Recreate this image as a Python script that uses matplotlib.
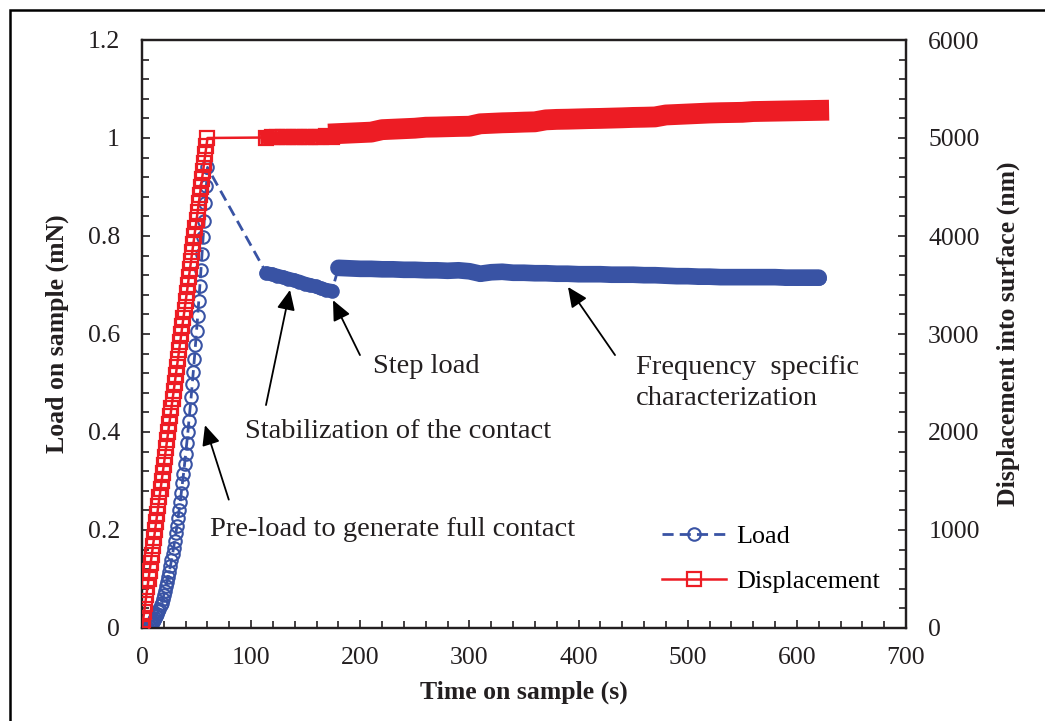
import matplotlib
matplotlib.use('Agg')
import matplotlib.pyplot as plt
from matplotlib.patches import Rectangle
from matplotlib.ticker import MultipleLocator, FuncFormatter
from matplotlib.lines import Line2D

plt.rcParams['font.family'] = ['Liberation Serif', 'DejaVu Serif']

# ---------------- data ----------------
ramp_time = list(range(0, 61))
ramp_load = [0.000, 0.000, 0.000, 0.001, 0.001, 0.002, 0.004, 0.005, 0.008, 0.010,
             0.013, 0.016, 0.020, 0.024, 0.029, 0.034, 0.039, 0.046, 0.052, 0.060,
             0.067, 0.076, 0.085, 0.094, 0.104, 0.115, 0.126, 0.138, 0.151, 0.164,
             0.178, 0.193, 0.208, 0.224, 0.241, 0.258, 0.276, 0.295, 0.314, 0.334,
             0.355, 0.377, 0.399, 0.423, 0.447, 0.471, 0.497, 0.523, 0.550, 0.578,
             0.607, 0.636, 0.667, 0.698, 0.730, 0.763, 0.797, 0.831, 0.867, 0.903,
             0.940]
ramp_disp = [0, 80, 165, 250, 335, 415, 500, 585, 665, 750,
             835, 915, 1000, 1085, 1165, 1250, 1335, 1415, 1500, 1585,
             1665, 1750, 1835, 1915, 2000, 2085, 2165, 2250, 2335, 2415,
             2500, 2585, 2665, 2750, 2835, 2915, 3000, 3085, 3165, 3250,
             3335, 3415, 3500, 3585, 3665, 3750, 3835, 3915, 4000, 4085,
             4165, 4250, 4335, 4415, 4500, 4585, 4665, 4750, 4835, 4915,
             5000]

step_time = [114, 119, 124, 129, 134, 139, 144, 149, 154, 159, 164, 169, 174]
step_load = [0.724, 0.722, 0.719, 0.716, 0.713, 0.710, 0.707, 0.703, 0.700,
             0.697, 0.693, 0.690, 0.688]
step_disp = [5005, 5008, 5006, 5010, 5008, 5012, 5010, 5014, 5011, 5015,
             5013, 5016, 5012]

freq_time = [180, 190, 200, 210, 220, 230, 240, 250, 260, 270,
             280, 290, 300, 310, 320, 330, 340, 350, 360, 370,
             380, 390, 400, 410, 420, 430, 440, 450, 460, 470,
             480, 490, 500, 510, 520, 530, 540, 550, 560, 570,
             580, 590, 600, 610, 620]
freq_load = [0.735, 0.734, 0.733, 0.733, 0.732, 0.732, 0.731, 0.731, 0.730, 0.730,
             0.729, 0.730, 0.728, 0.723, 0.726, 0.727, 0.725, 0.725, 0.724, 0.724,
             0.723, 0.723, 0.722, 0.722, 0.722, 0.721, 0.721, 0.721, 0.720, 0.720,
             0.719, 0.718, 0.718, 0.717, 0.717, 0.716, 0.716, 0.716, 0.716, 0.716,
             0.716, 0.715, 0.715, 0.715, 0.715]
freq_disp = [5045, 5050, 5055, 5060, 5085, 5090, 5095, 5100, 5110, 5112,
             5115, 5118, 5120, 5145, 5150, 5155, 5158, 5162, 5165, 5185,
             5190, 5192, 5195, 5198, 5200, 5203, 5206, 5210, 5212, 5215,
             5235, 5240, 5245, 5250, 5255, 5258, 5260, 5262, 5270, 5272,
             5274, 5276, 5278, 5280, 5282]

all_time = ramp_time + step_time + freq_time
all_load = ramp_load + step_load + freq_load
all_disp = ramp_disp + step_disp + freq_disp

# ---------------- style ----------------
BLUE = '#3953A4'
RED = '#ED1C24'
INK = '#231F20'
W, H = 1045, 721

fig = plt.figure(figsize=(W / 100, H / 100), dpi=100)
ax = fig.add_axes([142 / W, (H - 628) / H, 764 / W, 588 / H])
ax2 = ax.twinx()

dash = (0, (4, 2.2))
ax.plot(all_time, all_load, color=BLUE, ls=dash, lw=2.0, marker='o', ms=9,
        mfc='none', mec=BLUE, mew=1.5, zorder=3)
ax.plot(step_time, step_load, color=BLUE, lw=10, solid_capstyle='round', zorder=2)
ax.plot(freq_time, freq_load, color=BLUE, lw=12, solid_capstyle='round', zorder=2)

ax2.plot(all_time, all_disp, color=RED, ls='-', lw=1.8, marker='s', ms=9.5,
         mfc='none', mec=RED, mew=1.6, zorder=3)
ax2.plot(step_time, step_disp, color=RED, lw=9, solid_capstyle='projecting', zorder=2)
ax2.plot(freq_time, freq_disp, color=RED, lw=15, solid_capstyle='projecting', zorder=2)

# axes
ax.set_xlim(0, 700)
ax.set_ylim(0, 1.2)
ax2.set_ylim(0, 6000)
ax.xaxis.set_major_locator(MultipleLocator(100))
ax.xaxis.set_minor_locator(MultipleLocator(20))
ax.yaxis.set_major_locator(MultipleLocator(0.2))
ax.yaxis.set_minor_locator(MultipleLocator(0.04))
ax2.yaxis.set_major_locator(MultipleLocator(1000))
ax2.yaxis.set_minor_locator(MultipleLocator(200))
ax.yaxis.set_major_formatter(FuncFormatter(lambda v, p: '%g' % round(v, 3)))

TICK_FS = 18.5
for a in (ax, ax2):
    for s in a.spines.values():
        s.set_linewidth(1.6)
        s.set_color(INK)
ax.tick_params(axis='both', which='both', direction='in', color=INK, width=1.2,
               labelsize=TICK_FS, labelcolor=INK, top=False, right=False)
ax.tick_params(axis='both', which='major', length=6)
ax.tick_params(axis='both', which='minor', length=5)
ax.tick_params(axis='y', pad=16)
ax.tick_params(axis='x', pad=14)
ax2.tick_params(axis='y', which='both', direction='in', color=INK, width=1.2,
                labelsize=TICK_FS, labelcolor=INK, pad=16)
ax2.tick_params(axis='y', which='major', length=6)
ax2.tick_params(axis='y', which='minor', length=5)

ax.set_xlabel('Time on sample (s)', fontsize=18.5, fontweight='bold', color=INK, labelpad=8)
ax.set_ylabel('Load on sample (mN)', fontsize=18.5, fontweight='bold', color=INK, labelpad=13)
ax2.set_ylabel('Displacement into surface (nm)', fontsize=18.5, fontweight='bold',
               color=INK, labelpad=12)

# annotations
arrow = dict(arrowstyle='-|>,head_length=0.55,head_width=0.25', color='black',
             lw=1.3, mutation_scale=22, shrinkA=0, shrinkB=0)
fs = 20.5
ax.annotate('', xy=(57.7, 0.414), xytext=(79.5, 0.262), arrowprops=arrow)
ax.text(62.3, 0.200, 'Pre-load to generate full contact', fontsize=fs, color=INK,
        ha='left', va='center')
ax.annotate('', xy=(135.6, 0.690), xytext=(113.6, 0.455), arrowprops=arrow)
ax.text(94.4, 0.402, 'Stabilization of the contact', fontsize=fs, color=INK,
        ha='left', va='center')
ax.annotate('', xy=(175.0, 0.669), xytext=(199.7, 0.557), arrowprops=arrow)
ax.text(211.7, 0.533, 'Step load', fontsize=fs, color=INK, ha='left', va='center')
ax.annotate('', xy=(390.3, 0.696), xytext=(433.4, 0.557), arrowprops=arrow)
ax.text(452.6, 0.500, 'Frequency  specific\ncharacterization', fontsize=fs,
        color=INK, ha='left', va='center', linespacing=1.35)

# legend
h1 = Line2D([], [], color=BLUE, ls=dash, lw=2.0, marker='o', ms=9, mfc='none',
            mec=BLUE, mew=1.5)
h2 = Line2D([], [], color=RED, ls='-', lw=1.8, marker='s', ms=9.5, mfc='none',
            mec=RED, mew=1.6)
ax2.legend([h1, h2], ['Load', 'Displacement'], loc='upper left',
           bbox_to_anchor=(0.6806, 0.175), frameon=False, fontsize=18.8,
           handlelength=2.45, handletextpad=0.4, labelspacing=0.82,
           borderpad=0, borderaxespad=0)

# figure border
fig.patches.append(Rectangle((9.7 / W, -0.05), 1.2, 1 - 10.5 / H + 0.05,
                             transform=fig.transFigure, fill=False,
                             ec='black', lw=1.8))

fig.savefig('out.png', dpi=100)
